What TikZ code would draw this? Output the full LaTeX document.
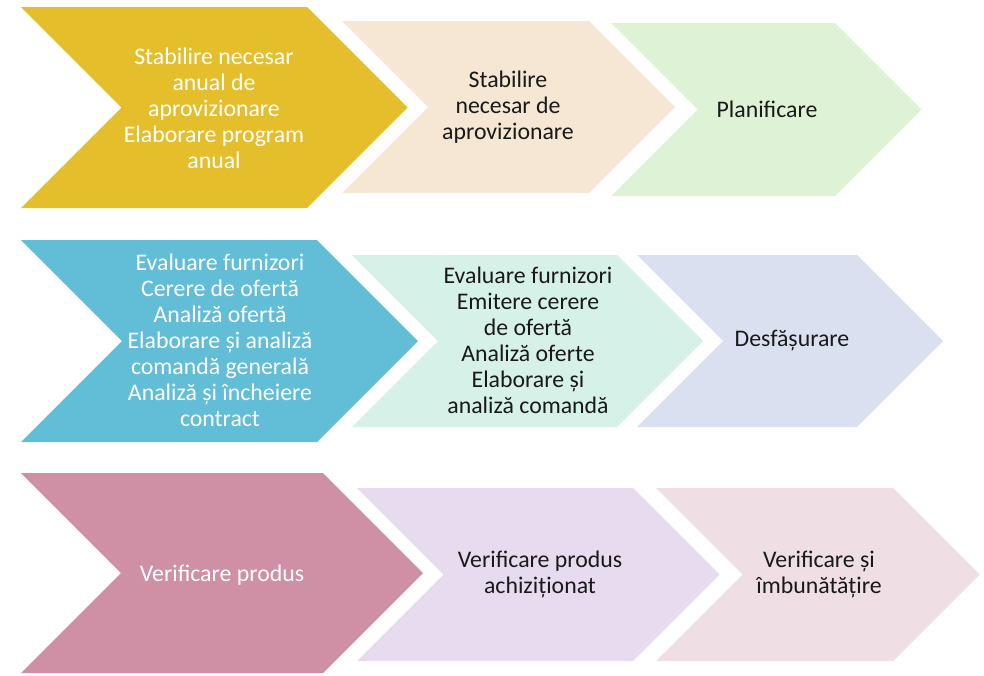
\documentclass[tikz,border=0pt]{standalone}
\usepackage{fontspec}
\setmainfont{Carlito}
\definecolor{cGold}{HTML}{E5BE2C}
\definecolor{cBeige}{HTML}{F5E7D3}
\definecolor{cGreen}{HTML}{DEF3D5}
\definecolor{cBlue}{HTML}{62BDD6}
\definecolor{cMint}{HTML}{D6F1E8}
\definecolor{cLav}{HTML}{DAE0F0}
\definecolor{cRose}{HTML}{CF8FA5}
\definecolor{cLilac}{HTML}{E7DBEF}
\definecolor{cPink}{HTML}{EFDEE4}
\newcommand{\mychev}[5]{%
  \fill[#5] (#1,#2) -- (#4,#2) -- ({#4+(#3-#2)/2},{(#2+#3)/2}) -- (#4,#3) -- (#1,#3) -- ({#1+(#3-#2)/2},{(#2+#3)/2}) -- cycle;}
\tikzset{
  lbl/.style={align=center, inner sep=0pt, font=\fontsize{23.8}{26}\selectfont},
  lblw/.style={lbl, text=white},
  lblb/.style={lbl, text=black!90}
}
\begin{document}
\begin{tikzpicture}[x=1pt,y=-1pt]
\useasboundingbox (0,0) rectangle (984,675);
% row 1
\mychev{21}{7}{208}{307}{cGold}
\mychev{342}{21}{193}{589}{cBeige}
\mychev{611}{23}{196}{835}{cGreen}
% row 2
\mychev{21}{240}{442}{317}{cBlue}
\mychev{352}{255}{427}{617}{cMint}
\mychev{637}{255}{427}{857}{cLav}
% row 3
\mychev{21}{473}{673}{323}{cRose}
\mychev{357}{488}{661}{633}{cLilac}
\mychev{656}{488}{661}{893}{cPink}
% labels
\node[lblw] (a1) at (214,108) {Stabilire necesar\\anual de\\aprovizionare\\Elaborare program\\anual};
\node[lblb] (a2) at (508,107) {Stabilire\\necesar de\\aprovizionare};
\node[lblb] (a3) at (767,109) {Planificare};
\node[lblw] (b1) at (220,340) {Evaluare furnizori\\Cerere de ofertă\\Analiză ofertă\\Elaborare și analiză\\comandă generală\\Analiză și încheiere\\contract};
\node[lblb] (b2) at (528,340) {Evaluare furnizori\\Emitere cerere\\de ofertă\\Analiză oferte\\Elaborare și\\analiză comandă};
\node[lblb] (b3) at (792,341) {Desfășurare};
\node[lblw] (c1) at (222,575) {Verificare produs};
\node[lblb] (c2) at (540,574) {Verificare produs\\achiziționat};
\node[lblb] (c3) at (819,574) {Verificare și\\îmbunătățire};
\end{tikzpicture}
\end{document}
